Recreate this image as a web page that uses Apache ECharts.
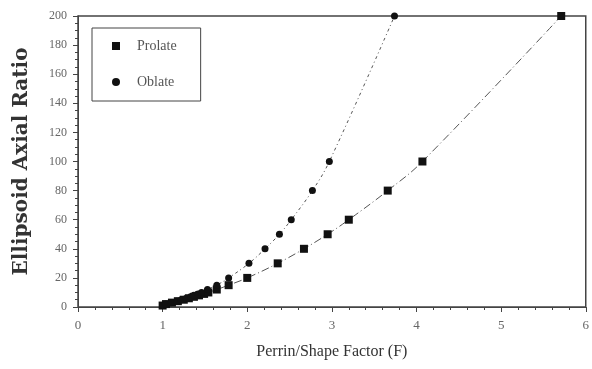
<!DOCTYPE html>
<html>
<head>
<meta charset="utf-8">
<script src="https://cdn.jsdelivr.net/npm/echarts@6/dist/echarts.min.js"></script>
<style>
  html, body { margin: 0; padding: 0; background: #ffffff; }
  #chart { width: 592px; height: 369px; }
</style>
</head>
<body>
<div id="chart"></div>
<script>
// axial ratios (y) and Perrin shape factor (x)
const prolateRatio = [1, 2, 3, 4, 5, 6, 7, 8, 9, 10, 12, 15, 20, 30, 40, 50, 60, 80, 100, 200]
const prolateF = [1.00, 1.04, 1.11, 1.18, 1.25, 1.31, 1.37, 1.43, 1.49, 1.54, 1.64, 1.78, 2.00, 2.36, 2.67, 2.95, 3.20, 3.66, 4.07, 5.71]
const oblateRatio = [1, 2, 3, 4, 5, 6, 7, 8, 9, 10, 12, 15, 20, 30, 40, 50, 60, 80, 100, 200]
const oblateF = [1.00, 1.04, 1.10, 1.17, 1.22, 1.28, 1.33, 1.37, 1.42, 1.46, 1.53, 1.64, 1.78, 2.02, 2.21, 2.38, 2.52, 2.77, 2.97, 3.74]

const serif = 'Liberation Serif'
const ink = '#333333'

const toPairs = (xs, ys) => xs.map((x, i) => [x, ys[i]])

const chart = echarts.init(document.getElementById('chart'))

const options = {
  backgroundColor: '#ffffff',
  animation: false,
  grid: {
    show: true,
    left: 78,
    right: 2,
    top: 16,
    bottom: 62,
    borderColor: '#444444',
    borderWidth: 1.5
  },
  legend: {
    left: 92,
    top: 28,
    orient: 'vertical',
    backgroundColor: '#ffffff',
    borderColor: '#444444',
    borderWidth: 1,
    padding: [11, 24, 12, 20],
    itemGap: 22,
    itemWidth: 8,
    itemHeight: 8,
    textStyle: {
      fontFamily: serif,
      fontSize: 14,
      color: '#555555',
      padding: [0, 0, 0, 12]
    },
    data: [
      { name: 'Prolate', icon: 'rect' },
      { name: 'Oblate', icon: 'circle' }
    ]
  },
  xAxis: {
    type: 'value',
    min: 0,
    max: 6,
    interval: 1,
    name: 'Perrin/Shape Factor (F)',
    nameLocation: 'middle',
    nameGap: 37,
    nameTextStyle: { fontFamily: serif, fontSize: 16, color: ink },
    axisLine: { lineStyle: { color: '#444444', width: 1 } },
    axisTick: { inside: false, length: 5, lineStyle: { color: '#444444' } },
    minorTick: { show: true, splitNumber: 5, length: 3, lineStyle: { color: '#444444' } },
    splitLine: { show: false },
    axisLabel: { fontFamily: serif, fontSize: 13, color: '#666666', margin: 12 }
  },
  yAxis: {
    type: 'value',
    min: 0,
    max: 200,
    interval: 20,
    name: 'Ellipsoid Axial Ratio',
    nameLocation: 'middle',
    nameGap: 46,
    nameTextStyle: { fontFamily: 'DejaVu Serif', fontSize: 20, fontWeight: 'bold', color: ink },
    axisLine: { show: true, lineStyle: { color: '#444444', width: 1 } },
    axisTick: { show: true, inside: false, length: 5, lineStyle: { color: '#444444' } },
    minorTick: { show: true, splitNumber: 4, length: 3, lineStyle: { color: '#444444' } },
    splitLine: { show: false },
    axisLabel: { fontFamily: serif, fontSize: 12, color: '#666666', margin: 11 }
  },
  series: [
    {
      name: 'Prolate',
      type: 'line',
      data: toPairs(prolateF, prolateRatio),
      smooth: 0.4,
      symbol: 'rect',
      symbolSize: 8,
      itemStyle: { color: '#111111' },
      lineStyle: { color: '#555555', width: 1, type: [8, 3, 1, 3] },
      z: 3
    },
    {
      name: 'Oblate',
      type: 'line',
      data: toPairs(oblateF, oblateRatio),
      smooth: 0.4,
      symbol: 'circle',
      symbolSize: 7,
      itemStyle: { color: '#111111' },
      lineStyle: { color: '#555555', width: 1, type: [3, 3, 1, 3] },
      z: 3
    }
  ]
}

chart.setOption(options)
</script>
</body>
</html>
